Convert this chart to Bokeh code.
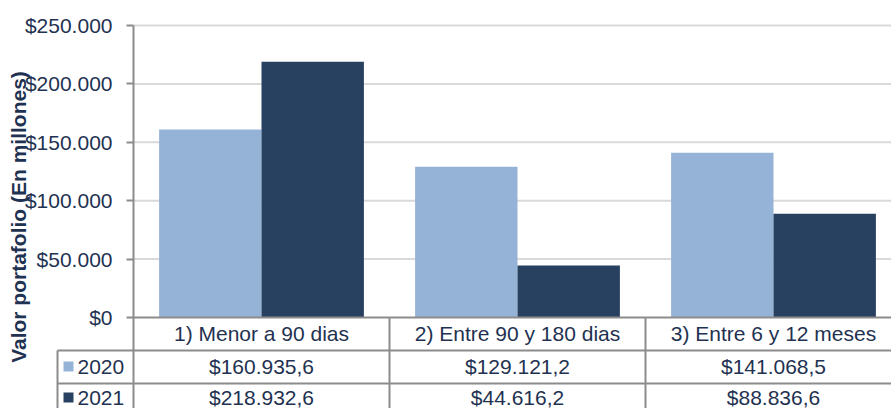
from bokeh.plotting import figure
from bokeh.models import Range1d, FixedTicker, LinearAxis
from bokeh.core.properties import value
from bokeh.embed import file_html
from bokeh.resources import INLINE

# ---- data ----
categories = ["1) Menor a 90 dias", "2) Entre 90 y 180 dias", "3) Entre 6 y 12 meses"]
series = ["2020", "2021"]
values_2020 = [160935.6, 129121.2, 141068.5]
values_2021 = [218932.6, 44616.2, 88836.6]
y_ticks = [0, 50000, 100000, 150000, 200000, 250000]
y_title = "Valor portafolio (En millones)"

# ---- style / layout ----
colors = ["#95B3D7", "#284161"]
TEXT = "#1F3251"
LINE = "#8C8C8C"
GRID = "#D9D9D9"
FONT = "Liberation Sans"
FS = "21px"
W, H = 891, 408
AXIS_PX = 133                # px column of the value axis
TOP_PX = 25                  # px row of the top tick
ZERO_PX = 317                # px row of value 0
CAT_PX = 256                 # px width of one category
TABLE_LEFT_PX = 57
ROW_LINES_PX = [350, 383]
ROW_CENTERS_PX = [333, 366, 397]

units_per_px = y_ticks[-1] / (ZERO_PX - TOP_PX)


def ypx(px):
    return -(px - ZERO_PX) * units_per_px


def xpx(px):
    return (px - AXIS_PX) / CAT_PX


def es(v, dec):
    s = f"{v:,.{dec}f}"
    return "$" + s.replace(",", "X").replace(".", ",").replace("X", ".")


x_end = xpx(W)
y_bottom = ypx(H)

p = figure(width=W, height=H, output_backend="svg", toolbar_location=None,
           x_range=Range1d(xpx(0), x_end), y_range=Range1d(y_bottom, ypx(0)),
           x_axis_location=None, y_axis_location=None,
           min_border_left=0, min_border_top=0, min_border_bottom=0, min_border_right=0)
p.outline_line_color = None
p.background_fill_color = "white"
p.border_fill_color = "white"
p.xgrid.visible = False
p.ygrid.visible = False

# gridlines from the tick values
p.segment(x0=0, x1=x_end, y0=y_ticks[1:], y1=y_ticks[1:], line_color=GRID, line_width=2)

# value axis fixed at the first category edge
ax = LinearAxis(fixed_location=0, bounds=(y_bottom, y_ticks[-1]))
ax.ticker = FixedTicker(ticks=y_ticks)
ax.major_label_overrides = {t: es(t, 0) for t in y_ticks}
ax.major_label_text_font = FONT
ax.major_label_text_font_size = FS
ax.major_label_text_color = TEXT
ax.major_label_standoff = 14
ax.major_tick_out = 7
ax.major_tick_in = 0
ax.minor_tick_out = 0
ax.minor_tick_in = 0
ax.major_tick_line_color = LINE
ax.major_tick_line_width = 2
ax.axis_line_color = LINE
ax.axis_line_width = 2
ax.axis_label = y_title
ax.axis_label_text_font = FONT
ax.axis_label_text_font_size = FS
ax.axis_label_text_font_style = "bold"
ax.axis_label_text_color = TEXT
ax.axis_label_standoff = -8
p.add_layout(ax, "left")

# bars
idx = list(range(len(categories)))
p.vbar(x=[i + 0.3 for i in idx], top=values_2020, width=0.4, color=colors[0], line_color=None)
p.vbar(x=[i + 0.7 for i in idx], top=values_2021, width=0.4, color=colors[1], line_color=None)

# data table grid
x_tab = xpx(TABLE_LEFT_PX)
y_rows = [ypx(v) for v in ROW_LINES_PX]
p.segment(x0=[0] + [x_tab] * len(y_rows), x1=[x_end] * (1 + len(y_rows)),
          y0=[0] + y_rows, y1=[0] + y_rows, line_color=LINE, line_width=2)
p.segment(x0=idx[1:] + [x_tab], x1=idx[1:] + [x_tab],
          y0=[0] * len(idx[1:]) + [y_rows[0]], y1=[y_bottom] * len(idx),
          line_color=LINE, line_width=2)

# table text
centers = [i + 0.5 for i in idx]
rows = [categories,
        [es(v, 1) for v in values_2020],
        [es(v, 1) for v in values_2021]]
for r, txt in enumerate(rows):
    p.text(x=centers, y=[ypx(ROW_CENTERS_PX[r])] * len(centers), text=txt,
           text_font=value(FONT), text_font_size=FS, text_color=TEXT,
           text_align="center", text_baseline="middle")

# legend keys in the table's first column
key_y = [ypx(c) for c in ROW_CENTERS_PX[1:]]
p.rect(x=[xpx(68)] * len(series), y=key_y, width=10, height=10,
       width_units="screen", height_units="screen", color=colors, line_color=None)
p.text(x=[xpx(77)] * len(series), y=key_y, text=series,
       text_font=value(FONT), text_font_size=FS, text_color=TEXT,
       text_align="left", text_baseline="middle")

open("out.html", "w").write(file_html(p, INLINE))
